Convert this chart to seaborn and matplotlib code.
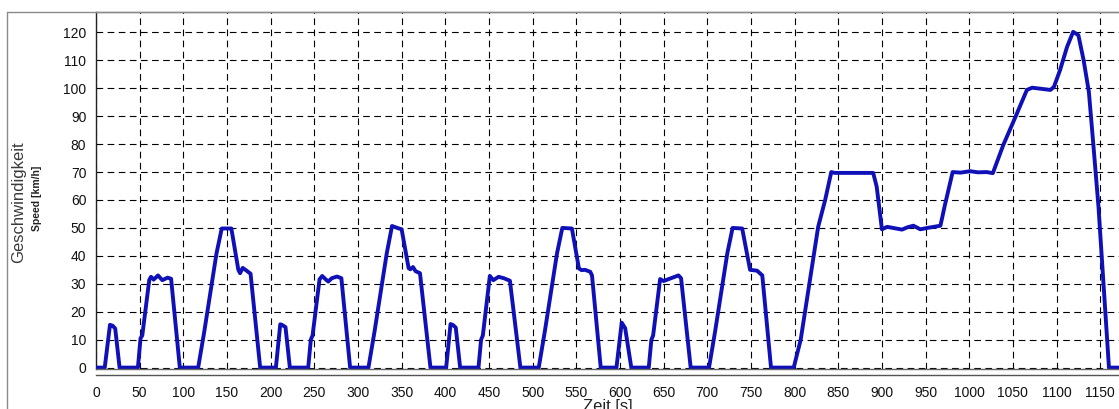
import matplotlib
matplotlib.use("Agg")
import matplotlib.pyplot as plt
from matplotlib.lines import Line2D
import pandas as pd
import seaborn as sns

# ---------------- data ----------------
# ECE-15 urban cycle 1
ece1_t = [0, 10, 16, 19, 22, 27, 48, 51, 53, 61, 63, 66, 71, 76, 82, 86, 96,
          117, 124, 138, 144, 155, 163, 165, 168, 172, 177, 188]
ece1_v = [0, 0, 15.3, 15.0, 14.0, 0, 0, 10.5, 11.5, 31.4, 32.5, 31.5, 33.0, 31.3, 32.2, 31.8, 0,
          0, 12.9, 40.9, 49.8, 49.8, 35.0, 33.8, 35.7, 34.8, 33.6, 0]
# ECE-15 urban cycle 2
ece2_t = [206, 211, 213, 217, 222, 243, 246, 248, 256, 259, 263, 266, 270, 276, 281, 291,
          312, 319, 333, 339, 345, 350, 358, 360, 363, 366, 371, 383]
ece2_v = [0, 15.5, 15.3, 14.5, 0, 0, 10.0, 11.5, 31.6, 32.8, 31.6, 30.8, 32.0, 32.6, 32.0, 0,
          0, 13.0, 41.0, 50.7, 50.0, 49.5, 35.6, 35.2, 36.0, 34.5, 33.8, 0]
# ECE-15 urban cycle 3
ece3_t = [401, 406, 409, 412, 417, 438, 441, 443, 451, 455, 461, 467, 474, 486,
          507, 514, 528, 534, 545, 553, 556, 560, 566, 568, 578]
ece3_v = [0, 15.6, 15.2, 14.3, 0, 0, 10.0, 11.5, 32.8, 31.3, 32.5, 32.0, 31.1, 0,
          0, 13.0, 41.0, 50.0, 49.8, 35.5, 34.9, 35.0, 34.3, 33.0, 0]
# ECE-15 urban cycle 4
ece4_t = [596, 602, 606, 613, 633, 636, 638, 646, 650, 656, 667, 670, 681,
          702, 709, 723, 729, 740, 749, 757, 763, 773]
ece4_v = [0, 16.1, 14.1, 0, 0, 10.0, 11.5, 31.7, 31.0, 31.7, 33.0, 32.0, 0,
          0, 13.0, 41.0, 50.0, 49.8, 35.0, 34.7, 33.0, 0]
# Extra-urban driving cycle (EUDC)
eudc_t = [780, 799, 807, 817, 827, 835, 842, 846, 890, 894, 900, 906, 913, 923, 929, 936,
          944, 952, 967, 972, 981, 990, 1001, 1010, 1020, 1027, 1039, 1053, 1066, 1072,
          1082, 1093, 1097, 1104, 1112, 1119, 1125, 1131, 1137, 1142, 1148, 1154, 1160, 1171]
eudc_v = [0, 0, 10.0, 30.2, 50.4, 60.0, 70.0, 69.7, 69.7, 64.8, 49.5, 50.4, 50.0, 49.4, 50.2, 50.8,
          49.5, 50.0, 50.8, 58.0, 70.0, 69.8, 70.3, 69.9, 70.0, 69.6, 79.7, 89.8, 99.4, 100.2,
          99.8, 99.4, 100.5, 106.5, 114.8, 120.2, 119.0, 110.0, 98.7, 80.3, 57.6, 29.0, 0, 0]

x_ticks = list(range(0, 1151, 50))
y_ticks = list(range(0, 121, 10))

df = pd.DataFrame({
    "t": ece1_t + ece2_t + ece3_t + ece4_t + eudc_t,
    "v": ece1_v + ece2_v + ece3_v + ece4_v + eudc_v,
})

# ---------------- figure ----------------
sns.set_style("white")
plt.rcParams["font.family"] = ["Liberation Sans", "DejaVu Sans"]

W, H = 1119, 409
fig = plt.figure(figsize=(W / 100, H / 100), dpi=100)
fig.patch.set_facecolor("white")
ax = fig.add_axes([96 / W, 1 - 369 / H, 1 - 96 / W, (369 - 12) / H])

sns.lineplot(data=df, x="t", y="v", ax=ax, color="#1010b8", linewidth=2.8,
             estimator=None, sort=False, zorder=3)

ax.set_xlim(0, 1171.5)
ax.set_ylim(-0.5, 127.3)
ax.set_xticks(x_ticks)
ax.set_yticks(y_ticks)
ax.set_xlabel("")
ax.set_ylabel("")

ax.grid(True, color="black", linestyle=(0, (6, 4)), linewidth=0.8, zorder=1)

ax.spines["top"].set_color("#8a8a8a")
ax.spines["top"].set_linewidth(1.0)
ax.spines["right"].set_visible(False)
ax.spines["left"].set_color("#222222")
ax.spines["left"].set_linewidth(1.0)
ax.spines["bottom"].set_position(("outward", 4))
ax.spines["bottom"].set_color("#555555")
ax.spines["bottom"].set_linewidth(1.0)

# frame line at the bottom of the plotting area
ax.add_line(Line2D([0, 1], [0, 0], transform=ax.transAxes, color="#666666",
                   linewidth=1.0, clip_on=False, zorder=4))

ax.tick_params(axis="y", direction="out", length=4, width=1, colors="#222222",
               labelsize=10, pad=3)
ax.tick_params(axis="x", direction="out", length=5, width=1, colors="#333333",
               labelsize=10, pad=3)
for lab in ax.get_xticklabels() + ax.get_yticklabels():
    lab.set_color("#111111")

# outer panel frame
fig.add_artist(Line2D([7 / W, 7 / W], [0, 1 - 12 / H], transform=fig.transFigure,
                      color="#8a8a8a", linewidth=1.0))
fig.add_artist(Line2D([7 / W, 1], [1 - 12 / H, 1 - 12 / H], transform=fig.transFigure,
                      color="#8a8a8a", linewidth=1.0))

# axis titles
fig.text(19 / W, 1 - 202 / H, "Geschwindigkeit", rotation=90, ha="center", va="center",
         fontsize=12, color="#3a3a3a")
fig.text(37 / W, 1 - 198 / H, "Speed [km/h]", rotation=90, ha="center", va="center",
         fontsize=7.5, fontweight="bold", color="#222222")
fig.text(608 / W, 1 - 407 / H, "Zeit [s]", ha="center", va="center",
         fontsize=12, color="#222222")

fig.savefig("out.png", dpi=100)
